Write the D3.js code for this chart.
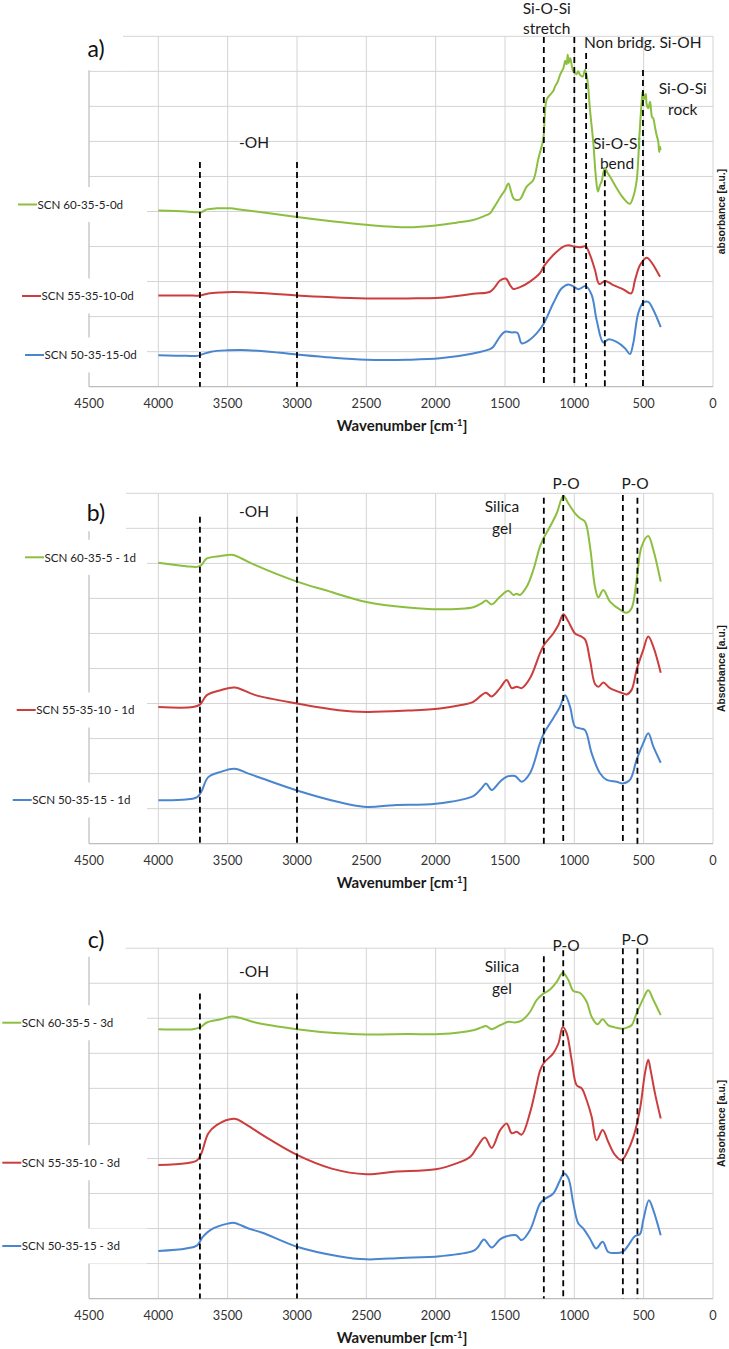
<!DOCTYPE html>
<html>
<head>
<meta charset="utf-8">
<script src="https://cdn.jsdelivr.net/npm/d3@7"></script>
<style>
  body { margin: 0; background: #fff; }
  svg { display: block; }
</style>
</head>
<body>
<div id="chart"></div>
<script>
// wavenumber ticks on the x axis
const xTicks = [4500, 4000, 3500, 3000, 2500, 2000, 1500, 1000, 500, 0];

// spectra as [wavenumber, absorbance in grid units]
const aGreen = [[4000,5.03],[3800,5.0],[3720,4.98],[3690,4.98],[3650,5.06],[3580,5.09],[3480,5.09],[3400,5.05],[3200,4.95],[3000,4.84],[2750,4.72],[2500,4.62],[2200,4.55],[2000,4.6],[1850,4.68],[1729,4.76],[1650,4.87],[1608,4.95],[1584,5.09],[1524,5.47],[1500,5.61],[1475,5.8],[1455,5.55],[1440,5.38],[1420,5.33],[1392,5.35],[1344,5.71],[1296,5.9],[1260,6.5],[1240,6.8],[1224,7.05],[1200,8.19],[1175,8.33],[1150,8.45],[1139,8.57],[1120,8.7],[1103,8.9],[1079,9.09],[1065,9.3],[1055,9.2],[1048,9.47],[1040,9.24],[1030,9.38],[1015,9.1],[1007,9.0],[985,8.92],[972,9.0],[959,8.9],[940,8.85],[923,9.04],[906,8.76],[887,7.9],[863,6.96],[845,6.0],[830,5.57],[815,5.75],[803,5.86],[780,6.24],[760,6.1],[743,6.0],[700,5.7],[650,5.4],[600,5.22],[575,5.42],[550,5.9],[530,7.2],[515,8.1],[507,8.43],[497,8.2],[485,8.35],[478,8.05],[466,7.95],[454,8.13],[440,7.7],[430,7.65],[418,7.4],[406,7.17],[395,7.0],[388,6.7],[382,6.85],[378,6.75]];
const aRed = [[4000,2.6],[3750,2.6],[3700,2.6],[3640,2.66],[3550,2.69],[3450,2.7],[3200,2.66],[3000,2.6],[2750,2.55],[2500,2.52],[2200,2.52],[1969,2.54],[1729,2.65],[1608,2.71],[1572,2.85],[1536,3.03],[1492,3.08],[1464,2.9],[1440,2.79],[1392,2.84],[1320,3.0],[1248,3.24],[1219,3.44],[1152,3.76],[1079,4.0],[1043,4.04],[1000,4.0],[959,3.98],[918,4.0],[887,3.76],[851,3.33],[820,2.93],[779,3.02],[719,2.9],[647,2.78],[591,2.66],[562,3.05],[526,3.47],[478,3.68],[430,3.47],[382,3.14]];
const aBlue = [[4000,0.9],[3800,0.88],[3720,0.88],[3680,0.93],[3620,1.0],[3500,1.04],[3400,1.05],[3200,1.0],[3000,0.92],[2750,0.83],[2500,0.77],[2200,0.77],[1969,0.81],[1729,0.95],[1608,1.07],[1584,1.14],[1536,1.43],[1500,1.57],[1452,1.55],[1411,1.54],[1380,1.24],[1344,1.28],[1272,1.52],[1219,1.81],[1152,2.38],[1091,2.81],[1043,2.92],[1000,2.85],[971,2.78],[918,2.87],[875,2.62],[839,1.9],[791,1.26],[755,1.35],[695,1.28],[635,1.1],[599,0.93],[575,1.24],[539,2.1],[503,2.4],[467,2.42],[430,2.19],[377,1.7]];

const bGreen = [[4000,8.02],[3800,7.92],[3720,7.9],[3690,7.95],[3650,8.14],[3550,8.21],[3460,8.24],[3400,8.14],[3300,7.95],[3000,7.48],[2800,7.24],[2500,6.9],[2200,6.74],[1969,6.69],[1729,6.75],[1669,6.86],[1637,6.94],[1596,6.83],[1536,7.05],[1476,7.22],[1440,7.1],[1416,7.13],[1392,7.1],[1344,7.33],[1296,7.81],[1248,8.48],[1219,8.74],[1175,9.05],[1127,9.43],[1079,9.92],[1043,9.71],[995,9.43],[959,9.29],[923,9.19],[887,8.48],[851,7.33],[827,7.03],[791,7.24],[743,6.91],[659,6.65],[623,6.59],[587,6.72],[551,7.53],[515,8.48],[467,8.78],[430,8.38],[377,7.48]];
const bRed = [[4000,3.9],[3750,3.9],[3700,3.97],[3650,4.24],[3550,4.38],[3450,4.46],[3300,4.24],[3000,4.0],[2700,3.81],[2500,3.76],[2200,3.8],[1969,3.86],[1825,3.95],[1729,4.05],[1669,4.24],[1637,4.31],[1596,4.2],[1536,4.44],[1488,4.67],[1452,4.44],[1416,4.48],[1380,4.44],[1320,4.72],[1248,5.43],[1219,5.67],[1152,6.0],[1115,6.24],[1079,6.55],[1043,6.34],[995,6.0],[959,5.93],[923,5.83],[887,5.24],[851,4.56],[825,4.48],[791,4.6],[743,4.44],[647,4.29],[623,4.26],[587,4.39],[551,4.96],[503,5.53],[467,5.91],[430,5.62],[377,4.88]];
const bBlue = [[4000,1.24],[3800,1.26],[3720,1.33],[3690,1.48],[3640,1.9],[3550,2.05],[3450,2.14],[3350,2.0],[3250,1.86],[3000,1.52],[2700,1.19],[2500,1.05],[2300,1.1],[2000,1.14],[1729,1.36],[1669,1.58],[1637,1.72],[1596,1.53],[1536,1.77],[1488,1.91],[1428,1.93],[1380,1.77],[1320,2.01],[1248,2.87],[1219,3.15],[1152,3.58],[1103,3.91],[1067,4.24],[1031,3.91],[995,3.34],[959,3.29],[923,3.24],[875,2.58],[815,2.01],[767,1.82],[695,1.77],[651,1.72],[599,1.82],[551,2.39],[503,2.87],[467,3.15],[430,2.77],[377,2.31]];

const cGreen = [[4000,7.69],[3750,7.69],[3700,7.74],[3650,7.88],[3550,7.97],[3470,8.05],[3400,8.0],[3300,7.88],[3000,7.69],[2700,7.57],[2500,7.54],[2200,7.55],[1969,7.55],[1729,7.66],[1669,7.74],[1637,7.78],[1596,7.69],[1536,7.8],[1476,7.9],[1428,7.88],[1380,7.93],[1320,8.18],[1272,8.52],[1228,8.69],[1175,8.82],[1127,9.04],[1083,9.3],[1043,9.09],[1007,8.78],[959,8.72],[911,8.47],[875,8.04],[834,7.83],[796,7.97],[755,7.8],[707,7.74],[651,7.7],[611,7.75],[587,7.8],[551,8.14],[503,8.56],[467,8.8],[430,8.52],[377,8.09]];
const cRed = [[4000,3.81],[3800,3.86],[3720,3.95],[3690,4.14],[3640,4.71],[3580,4.95],[3450,5.13],[3380,5.0],[3250,4.67],[3000,4.1],[2750,3.71],[2500,3.55],[2300,3.62],[2000,3.69],[1850,3.86],[1750,4.05],[1700,4.33],[1645,4.6],[1596,4.3],[1536,4.8],[1488,5.0],[1452,4.72],[1416,4.76],[1380,4.68],[1320,5.3],[1272,6.1],[1248,6.5],[1219,6.73],[1152,7.0],[1115,7.28],[1083,7.75],[1055,7.57],[1019,6.8],[983,6.09],[947,6.0],[911,5.66],[875,5.19],[839,4.52],[796,4.81],[755,4.47],[707,4.1],[659,3.95],[623,4.15],[575,4.6],[527,5.4],[491,6.42],[467,6.82],[450,6.52],[418,5.85],[377,5.14]];
const cBlue = [[4000,1.36],[3800,1.43],[3720,1.52],[3680,1.76],[3620,1.97],[3500,2.14],[3450,2.16],[3350,2.0],[3250,1.88],[3000,1.48],[2700,1.21],[2500,1.12],[2250,1.16],[1969,1.21],[1729,1.36],[1693,1.48],[1652,1.69],[1596,1.46],[1536,1.69],[1488,1.78],[1420,1.81],[1380,1.67],[1320,1.95],[1248,2.71],[1219,2.83],[1152,3.0],[1103,3.38],[1075,3.57],[1043,3.43],[1007,2.71],[971,2.14],[935,2.0],[887,1.71],[843,1.43],[796,1.62],[755,1.33],[707,1.3],[651,1.33],[611,1.52],[563,1.78],[527,1.84],[503,2.24],[462,2.81],[430,2.52],[377,1.81]];

// series names
const namesA = ["SCN 60-35-5-0d", "SCN 55-35-10-0d", "SCN 50-35-15-0d"];
const namesB = ["SCN 60-35-5 - 1d", "SCN 55-35-10 - 1d", "SCN 50-35-15 - 1d"];
const namesC = ["SCN 60-35-5 - 3d", "SCN 55-35-10 - 3d", "SCN 50-35-15 - 3d"];

// dashed marker lines: [wavenumber, top in grid units]
const dashA = [[3700,6.41],[3000,6.41],[1220,9.98],[1000,9.98],[915,9.52],[780,6.18],[505,9.04]];
const dashB = [[3700,9.33],[3000,9.33],[1220,9.87],[1080,9.95],[650,9.95],[545,9.87]];
const dashC = [[3700,8.71],[3000,8.71],[1220,9.77],[1080,9.94],[650,10],[545,10]];

const colors = ["#8cbf3f", "#cc3d3d", "#4a86cf"];
const font = "Lato, 'Open Sans', sans-serif";

const W = 729, H = 1349;
const plotH = 350.4;

const svg = d3.select("#chart").append("svg")
  .attr("width", W).attr("height", H);

const x = d3.scaleLinear().domain([4500, 0]).range([89, 713]);

const panels = [
  { top: 36.3, label: "a)", labelBox: [60, 123, 34], labelY: 21, ytitle: "absorbance [a.u.]",
    series: [aGreen, aRed, aBlue], names: namesA, dashes: dashA,
    legend: [[18, 204.5], [22, 296], [25, 355]],
    notes: [
      { t: "Si-O-Si", w: 1199, dy: -28, anchor: "middle" },
      { t: "stretch", w: 1199, dy: -8, anchor: "middle" },
      { t: "Non bridg. Si-OH", w: 930, dy: 6, anchor: "start" },
      { t: "Si-O-Si", w: 218, dy: 52, anchor: "middle" },
      { t: "rock", w: 218, dy: 73, anchor: "middle" },
      { t: "Si-O-Si", w: 692, dy: 107, anchor: "middle" },
      { t: "bend", w: 692, dy: 127, anchor: "middle" },
      { t: "-OH", w: 3310, dy: 106, anchor: "middle" }
    ] },
  { top: 493.3, label: "b)", labelBox: [60, 126, 38], labelY: 28, ytitle: "Absorbance [a.u.]",
    series: [bGreen, bRed, bBlue], names: namesB, dashes: dashB,
    legend: [[25, 557.3], [16.7, 710], [12.7, 800]],
    notes: [
      { t: "-OH", w: 3310, dy: 18.5, anchor: "middle" },
      { t: "Silica", w: 1522, dy: 13.5, anchor: "middle" },
      { t: "gel", w: 1522, dy: 35, anchor: "middle" },
      { t: "P-O", w: 1060, dy: -9.5, anchor: "middle" },
      { t: "P-O", w: 562, dy: -9.5, anchor: "middle" }
    ] },
  { top: 948.2, label: "c)", labelBox: [60, 125.6, 8.5], labelY: -0.5, ytitle: "Absorbance [a.u.]",
    series: [cGreen, cRed, cBlue], names: namesC, dashes: dashC,
    legend: [[2.3, 1022.7], [2.3, 1162.7], [2.3, 1246]],
    notes: [
      { t: "-OH", w: 3310, dy: 23.5, anchor: "middle" },
      { t: "Silica", w: 1522, dy: 18.5, anchor: "middle" },
      { t: "gel", w: 1522, dy: 40, anchor: "middle" },
      { t: "P-O", w: 1060, dy: -3.2, anchor: "middle" },
      { t: "P-O", w: 562, dy: -9, anchor: "middle" }
    ] }
];

panels.forEach(p => {
  const y = d3.scaleLinear().domain([0, 10]).range([p.top + plotH, p.top]);
  const g = svg.append("g");
  const bottom = p.top + plotH;

  // horizontal gridlines
  g.selectAll(".hgrid").data(d3.range(1, 11)).enter().append("line")
    .attr("x1", x(4500)).attr("x2", x(0))
    .attr("y1", d => y(d)).attr("y2", d => y(d))
    .attr("stroke", "#d4d4d4").attr("stroke-width", 1);

  // vertical gridlines
  g.selectAll(".vgrid").data(xTicks.slice(1)).enter().append("line")
    .attr("x1", d => x(d)).attr("x2", d => x(d))
    .attr("y1", y(10)).attr("y2", y(0))
    .attr("stroke", "#d4d4d4").attr("stroke-width", 1);

  // axes
  g.append("line")
    .attr("x1", x(4500)).attr("x2", x(0))
    .attr("y1", y(0)).attr("y2", y(0))
    .attr("stroke", "#bdbdbd").attr("stroke-width", 1.2);
  g.append("line")
    .attr("x1", x(4500)).attr("x2", x(4500))
    .attr("y1", y(10)).attr("y2", y(0))
    .attr("stroke", "#bdbdbd").attr("stroke-width", 1.2);

  // tick labels
  g.selectAll(".tick").data(xTicks).enter().append("text")
    .attr("x", d => x(d))
    .attr("y", bottom + 21)
    .attr("text-anchor", "middle")
    .attr("font-family", font)
    .attr("font-size", 12.8)
    .attr("fill", "#333")
    .text(d => d);

  // x title
  const xt = g.append("text")
    .attr("x", 402).attr("y", bottom + 44.5)
    .attr("text-anchor", "middle")
    .attr("font-family", font)
    .attr("font-weight", "bold")
    .attr("font-size", 15)
    .attr("fill", "#1a1a1a");
  xt.append("tspan").text("Wavenumber [cm");
  xt.append("tspan").text("-1").attr("font-size", 9.5).attr("dy", -5);
  xt.append("tspan").text("]").attr("dy", 5);

  // y title
  g.append("text")
    .attr("transform", `translate(${725},${p.top + plotH / 2}) rotate(-90)`)
    .attr("text-anchor", "middle")
    .attr("font-family", "'Liberation Sans', Arial, sans-serif")
    .attr("font-weight", "bold")
    .attr("font-size", 10.3)
    .attr("fill", "#1a1a1a")
    .text(p.ytitle);

  // panel label with white box
  g.append("rect")
    .attr("x", p.labelBox[0]).attr("y", p.top - 30)
    .attr("width", p.labelBox[1] - p.labelBox[0])
    .attr("height", p.labelBox[2] + 30)
    .attr("fill", "#fff");

  // legend entries placed next to curves (white boxes)
  p.legend.forEach((l, i) => {
    g.append("rect")
      .attr("x", 0).attr("y", l[1] - 17.5)
      .attr("width", 147).attr("height", 35)
      .attr("fill", "#fff");
    g.append("line")
      .attr("x1", l[0]).attr("x2", l[0] + 19)
      .attr("y1", l[1]).attr("y2", l[1])
      .attr("stroke", colors[i]).attr("stroke-width", 2);
    g.append("text")
      .attr("x", l[0] + 19.5).attr("y", l[1] + 4.2)
      .attr("font-family", font)
      .attr("font-size", 11.6)
      .attr("fill", "#222")
      .text(p.names[i]);
  });

  g.append("text")
    .attr("x", 96).attr("y", p.top + p.labelY)
    .attr("text-anchor", "middle")
    .attr("font-family", font)
    .attr("font-size", 23)
    .attr("fill", "#111")
    .text(p.label);

  // annotations
  p.notes.forEach(n => {
    g.append("text")
      .attr("x", x(n.w)).attr("y", p.top + n.dy + 5.5)
      .attr("text-anchor", n.anchor)
      .attr("font-family", font)
      .attr("font-size", 15.5)
      .attr("fill", "#1a1a1a")
      .text(n.t);
  });

  // spectra
  const line = d3.line()
    .x(d => x(d[0]))
    .y(d => y(d[1]))
    .curve(d3.curveCatmullRom.alpha(0.5));

  p.series.forEach((s, i) => {
    g.append("path")
      .datum(s)
      .attr("d", line)
      .attr("fill", "none")
      .attr("stroke", colors[i])
      .attr("stroke-width", 2);
  });

  // dashed marker lines
  g.selectAll(".dash").data(p.dashes).enter().append("line")
    .attr("x1", d => x(d[0])).attr("x2", d => x(d[0]))
    .attr("y1", d => y(d[1])).attr("y2", y(0))
    .attr("stroke", "#000")
    .attr("stroke-width", 1.8)
    .attr("stroke-dasharray", "6,4");
});
</script>
</body>
</html>
